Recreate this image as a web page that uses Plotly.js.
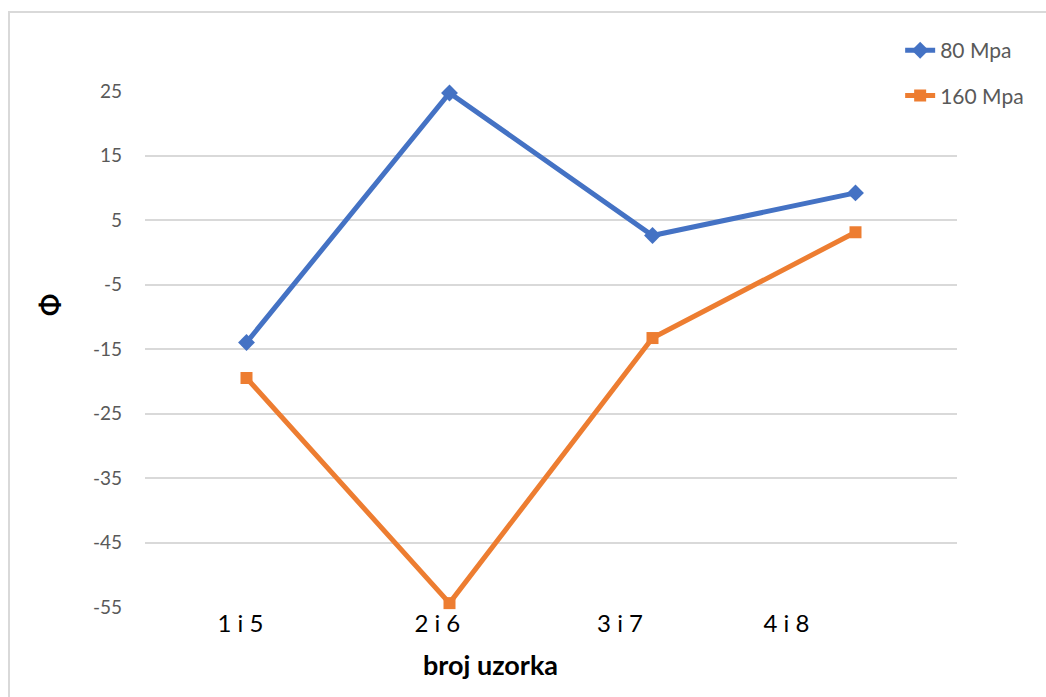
<!DOCTYPE html>
<html>
<head>
<meta charset="utf-8">
<script src="https://cdn.plot.ly/plotly-3.0.1.min.js"></script>
<style>
html,body{margin:0;padding:0;overflow:hidden;background:#fff;}
#chart{position:absolute;left:0;top:0;width:1046px;height:697px;}
#frame{position:absolute;left:8px;top:11px;width:1200px;height:800px;border:2px solid #d9d9d9;pointer-events:none;}
</style>
</head>
<body>
<div id="chart"></div>
<div id="frame"></div>
<script>
const categories = ["1 i 5", "2 i 6", "3 i 7", "4 i 8"];
const series80 = [-14.0, 24.7, 2.6, 9.2];
const series160 = [-19.5, -54.4, -13.3, 3.1];
const seriesNames = ["80 Mpa", "160 Mpa"];
const yTicks = [25, 15, 5, -5, -15, -25, -35, -45, -55];
const yTickText = ["25", "15", "5", "-5", "-15", "-25", "-35", "-45", "-55"];

const font = "Lato, 'Open Sans', 'Liberation Sans', sans-serif";

const traces = [
  {
    x: categories, y: series80, name: seriesNames[0], type: "scatter", mode: "lines+markers",
    line: {color: "#4472C4", width: 5},
    marker: {symbol: "diamond", size: 13, color: "#4472C4"},
    legendgroup: "a", cliponaxis: false
  },
  {
    x: categories, y: series160, name: seriesNames[1], type: "scatter", mode: "lines+markers",
    line: {color: "#ED7D31", width: 5},
    marker: {symbol: "square", size: 12, color: "#ED7D31"},
    legendgroup: "b", cliponaxis: false
  },
  {
    x: [0, 4], y: [null, null], xaxis: "x2", yaxis: "y", showlegend: false, hoverinfo: "skip",
    type: "scatter", mode: "lines"
  }
];

const layout = {
  width: 1046, height: 697,
  margin: {l: 145, r: 89, t: 91, b: 90},
  paper_bgcolor: "#fff", plot_bgcolor: "#fff",
  font: {family: font, color: "#595959"},
  showlegend: true,
  legend: {
    x: 0.93, y: 1.118, xanchor: "left", yanchor: "top",
    font: {size: 21, color: "#595959", family: font},
    traceorder: "grouped", tracegroupgap: 15,
    bgcolor: "rgba(0,0,0,0)"
  },
  xaxis: {
    type: "category", range: [-0.5, 3.5],
    showticklabels: false, showgrid: false, zeroline: false, showline: false,
    ticks: ""
  },
  xaxis2: {
    overlaying: "x", side: "bottom", range: [0, 4],
    tickmode: "array", tickvals: [0.47, 1.44, 2.34, 3.16], ticktext: categories,
    showgrid: false, zeroline: false, showline: false, ticks: "",
    tickfont: {size: 24, color: "#000", family: font}, ticklen: 0
  },
  yaxis: {
    range: [-55, 25], tickmode: "array", tickvals: yTicks, ticktext: yTickText,
    showgrid: true, gridcolor: "#d9d9d9", gridwidth: 2, zeroline: false, showline: false,
    ticks: "", ticklabelstandoff: 22,
    tickfont: {size: 19, color: "#595959", family: font}
  },
  annotations: [
    {
      text: "<b>broj uzorka</b>", xref: "paper", yref: "paper",
      x: (490 - 145) / 812, y: -0.112, xanchor: "center", yanchor: "middle",
      showarrow: false, font: {size: 27, color: "#000", family: font}
    },
    {
      text: "<b>Φ</b>", xref: "paper", yref: "paper",
      x: (50 - 145) / 812, y: (607 - 305) / 516, xanchor: "center", yanchor: "middle",
      textangle: -90, showarrow: false, font: {size: 26, color: "#000", family: font}
    }
  ]
};

Plotly.newPlot("chart", traces, layout, {displayModeBar: false, staticPlot: true});
</script>
</body>
</html>
